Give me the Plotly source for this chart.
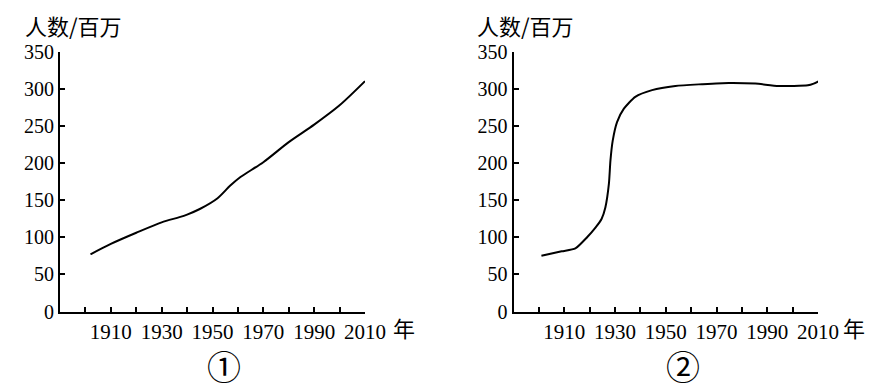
import plotly.graph_objects as go

# ---- data ----
years_1 = [1902, 1910, 1920, 1930, 1937, 1940, 1945, 1952, 1957, 1961, 1970, 1980, 1990, 2000, 2010]
pop_1 = [77, 91, 106, 120, 127, 130.5, 138, 152.5, 169.5, 181, 201, 228, 251.5, 277.5, 310]

years_2 = [1901, 1909, 1914.4, 1919, 1922.3, 1924.7, 1926.2, 1927.6, 1928.2, 1929.1, 1930.8, 1933.5,
           1938, 1944.6, 1953.8, 1964.3, 1974.8, 1985.3, 1994.5, 2006, 2008.3, 2010.5]
pop_2 = [75, 81, 85, 100, 113, 124.6, 140, 172, 203, 230, 255, 273,
         289, 298, 303.6, 306, 307.7, 306.8, 303.6, 304.5, 306.8, 310.4]

x_tick_vals = list(range(1900, 2011, 10))
x_tick_text = ['', '1910', '', '1930', '', '1950', '', '1970', '', '1990', '', '2010']
y_tick_vals = [0, 50, 100, 150, 200, 250, 300, 350]
y_title = '人数/百万'
x_unit = '年'
panel_labels = ['①', '②']

# the page body has an 8px default margin; work in window pixels and shift
OFF = 8
W, H = 887 - OFF, 392 - OFF
serif = 'Liberation Serif, Times New Roman, serif'
cjk = 'Noto Sans CJK SC'

def px_x(p):
    return (p - OFF) / W

def px_y(p):
    return 1 - (p - OFF) / H

fig = go.Figure()
fig.add_trace(go.Scatter(x=years_1, y=pop_1, mode='lines', xaxis='x', yaxis='y',
                         line=dict(color='black', width=2, shape='spline', smoothing=0.8),
                         hoverinfo='skip', showlegend=False))
fig.add_trace(go.Scatter(x=years_2, y=pop_2, mode='lines', xaxis='x2', yaxis='y2',
                         line=dict(color='black', width=2, shape='spline', smoothing=0.6),
                         hoverinfo='skip', showlegend=False))

xdom1 = [px_x(60), px_x(365)]
xdom2 = [px_x(513.5), px_x(818)]
ydom = [px_y(311.5), px_y(51.5)]

def xaxis(dom, anchor):
    return dict(domain=dom, anchor=anchor, range=[1890, 2010], automargin=False,
                tickmode='array', tickvals=x_tick_vals, ticktext=x_tick_text,
                ticks='inside', ticklen=5, tickwidth=2, tickcolor='black',
                showline=True, linecolor='black', linewidth=2,
                showgrid=False, zeroline=False,
                tickfont=dict(family=serif, size=21, color='black'))

def yaxis(anchor):
    return dict(domain=ydom, anchor=anchor, range=[0, 350], automargin=False,
                tickmode='array', tickvals=y_tick_vals,
                ticks='inside', ticklen=5, tickwidth=2, tickcolor='black',
                showline=True, linecolor='black', linewidth=2,
                showgrid=False, zeroline=False,
                tickfont=dict(family=serif, size=20, color='black'))

anns = []
for xp, text in [(23, y_title), (475, y_title)]:
    anns.append(dict(x=px_x(xp), y=px_y(25.5), xref='paper', yref='paper', text=text,
                     showarrow=False, xanchor='left', yanchor='middle',
                     font=dict(family=cjk, size=22, color='black')))
for xp in (404, 854):
    anns.append(dict(x=px_x(xp), y=px_y(327), xref='paper', yref='paper', text=x_unit,
                     showarrow=False, xanchor='center', yanchor='middle',
                     font=dict(family=cjk, size=22, color='black')))
for xp, text in [(224, panel_labels[0]), (682.5, panel_labels[1])]:
    anns.append(dict(x=px_x(xp), y=0, xref='paper', yref='paper', text=text,
                     showarrow=False, xanchor='center', yanchor='bottom',
                     font=dict(family=cjk, size=34, color='black')))

fig.update_layout(
    template='none',
    width=W, height=H,
    margin=dict(l=0, r=0, t=0, b=0, pad=0),
    paper_bgcolor='white', plot_bgcolor='white',
    xaxis=xaxis(xdom1, 'y'), yaxis=yaxis('x'),
    xaxis2=xaxis(xdom2, 'y2'), yaxis2=yaxis('x2'),
    annotations=anns,
    showlegend=False,
)

fig.write_html('out.html', config={'displayModeBar': False})
